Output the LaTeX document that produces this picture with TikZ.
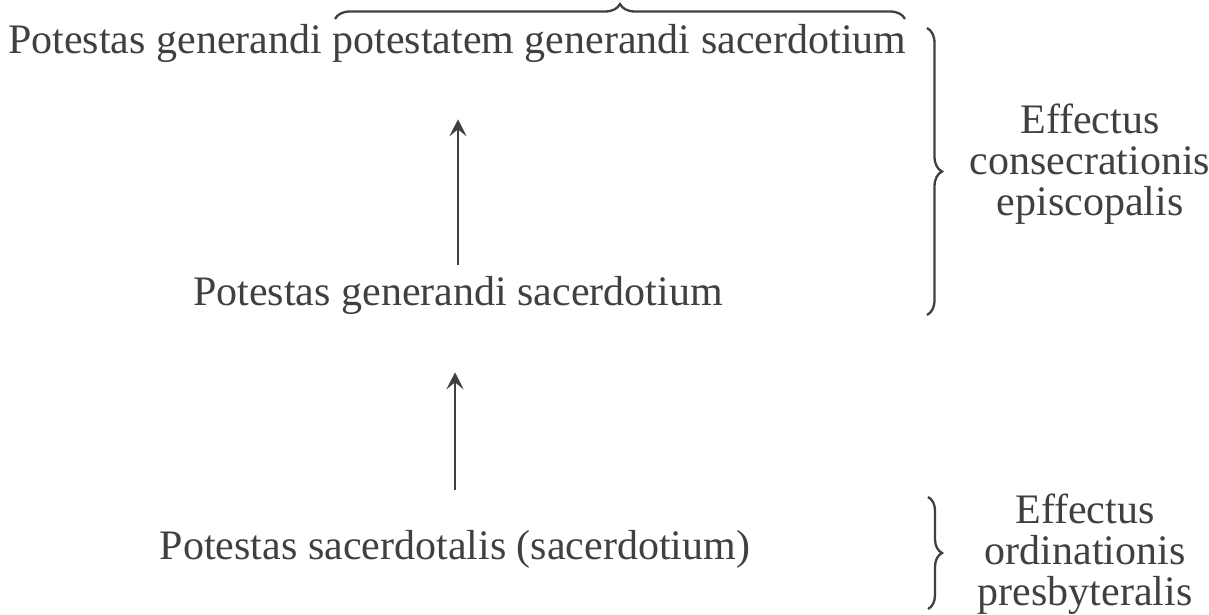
\documentclass[tikz,border=0pt]{standalone}
\usepackage{fontspec}
\setmainfont{Liberation Serif}
\usetikzlibrary{decorations.pathreplacing,arrows.meta}
\definecolor{ink}{HTML}{404040}
\begin{document}
\begin{tikzpicture}[x=1pt,y=1pt,
  txt/.style={inner sep=0pt, font=\fontsize{42}{41}\selectfont, text=ink},
  arr/.style={draw=ink, line width=2.6pt, -{Stealth[length=17pt,width=17pt,inset=7pt]}},
  brc/.style={draw=ink, line width=2.3pt, decorate, decoration={brace,amplitude=#1}},
  brc/.default=15pt]
\useasboundingbox (0,0) rectangle (1209,-615);
\node[txt,anchor=base west] (l1) at (8,-54) {Potestas generandi potestatem generandi sacerdotium};
\node[txt,anchor=base] (l2) at (458,-305) {Potestas generandi sacerdotium};
\node[txt,anchor=base] (l3) at (455,-559) {Potestas sacerdotalis (sacerdotium)};
\node[txt,align=center] (e1) at (1090,-164) {Effectus\\consecrationis\\episcopalis};
\node[txt,align=center] (e2) at (1085,-554) {Effectus\\ordinationis\\presbyteralis};
\draw[arr, shorten <=11pt, shorten >=56pt] (l2.north) -- (l2.north |- l1.south);
\draw[arr, shorten <=40pt, shorten >=58pt] (l3.north) -- (l3.north |- l2.south);
\coordinate (tb1) at (335,-19);
\coordinate (tb2) at (905,-19);
\draw[brc] (tb1) -- (tb2);
\coordinate (rb1) at (927,-28);
\coordinate (rb2) at (927,-315);
\draw[brc] (rb1) -- (rb2);
\coordinate (rc1) at (928,-497);
\coordinate (rc2) at (928,-609);
\draw[brc=14pt] (rc1) -- (rc2);
\end{tikzpicture}
\end{document}
